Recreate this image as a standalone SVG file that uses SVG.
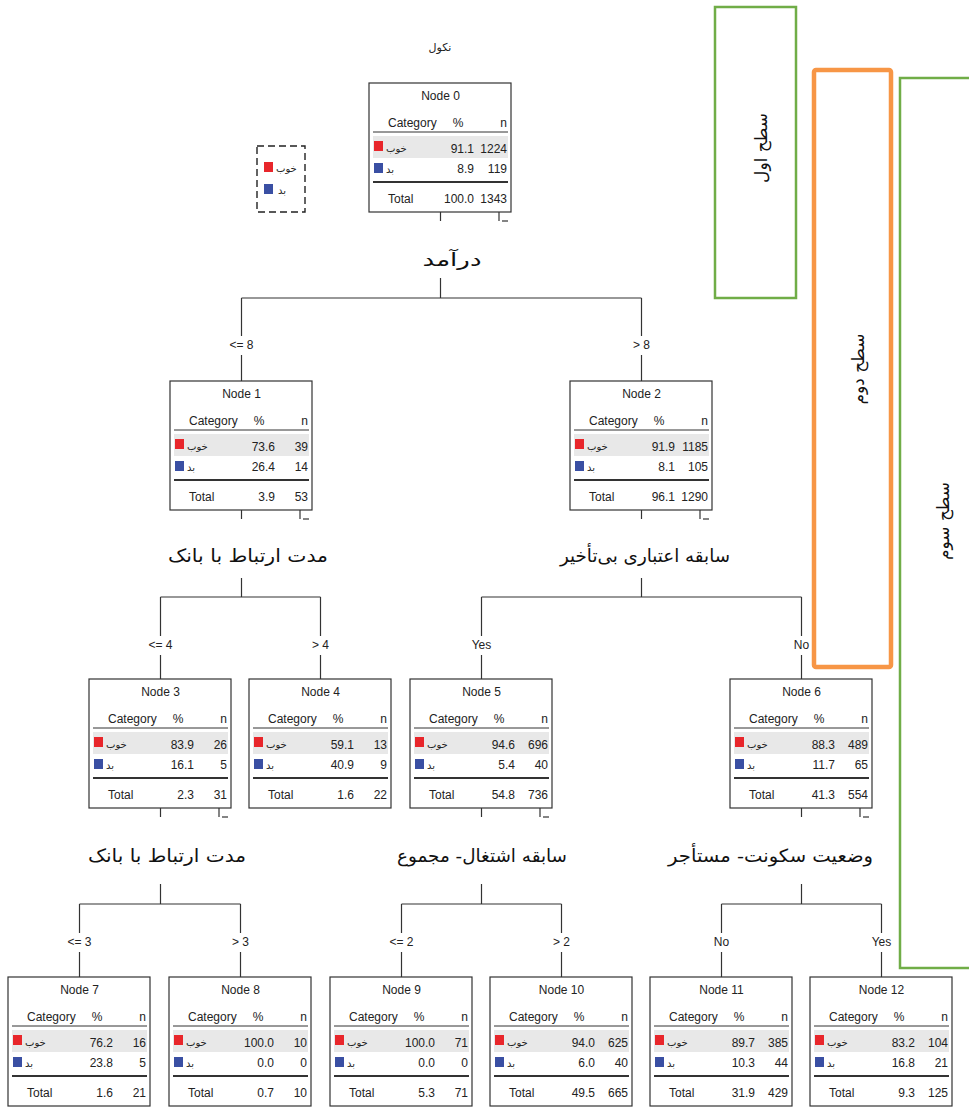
<svg xmlns="http://www.w3.org/2000/svg" width="969" height="1108" viewBox="0 0 969 1108">
<style>
.box{fill:#fff;stroke:#333;stroke-width:1.2}
.t{font-family:"Liberation Sans",Arial,sans-serif;font-size:12px;fill:#222}
.e{text-anchor:end}
.m{text-anchor:middle}
.ar{font-family:"DejaVu Sans",sans-serif;font-size:10px;fill:#222}
.split{font-family:"DejaVu Sans",sans-serif;font-size:18px;fill:#111;text-anchor:middle}
.lvl{font-family:"DejaVu Sans",sans-serif;font-size:17px;fill:#111;text-anchor:middle}
.rule{stroke:#333;stroke-width:1}
.rule2{stroke:#333;stroke-width:2}
.band{fill:#e8e8e8}
.red{fill:#e8262b}
.blue{fill:#3a4fa3}
.c{stroke:#333;stroke-width:1.2;fill:none}
</style>
<defs>
<g id="frame">
<rect class="box" x="0" y="0" width="142" height="129"/>
<text class="t" x="19" y="44">Category</text>
<text class="t m" x="89" y="44">%</text>
<text class="t e" x="138" y="44">n</text>
<line class="rule" x1="4" y1="49" x2="139" y2="49"/>
<rect class="band" x="4" y="53" width="135" height="22"/>
<rect class="red" x="5" y="58" width="9" height="10"/>
<text class="ar" x="17" y="69">خوب</text>
<rect class="blue" x="5" y="80" width="9" height="10"/>
<text class="ar" x="17" y="90">بد</text>
<line class="rule2" x1="4" y1="99" x2="139" y2="99"/>
<text class="t" x="19" y="120">Total</text>
</g>
<g id="stub">
<line class="c" x1="71.5" y1="129" x2="71.5" y2="138"/>
<line class="c" x1="130" y1="129" x2="130" y2="138"/>
<line class="c" x1="133" y1="138" x2="139" y2="138"/>
</g>
</defs>

<text class="ar m" x="440" y="51" style="font-size:11px">نکول</text>

<g id="legend">
<rect x="257" y="146" width="48" height="66" fill="none" stroke="#222" stroke-width="1.4" stroke-dasharray="7 4"/>
<rect class="red" x="264" y="162" width="9" height="10"/>
<text class="ar" x="276" y="172">خوب</text>
<rect class="blue" x="264" y="184" width="9" height="10"/>
<text class="ar" x="278" y="194">بد</text>
</g>

<g id="levels">
<rect x="715" y="7" width="81" height="291" fill="#fff" stroke="#70ad47" stroke-width="2.5"/>
<text class="lvl" transform="translate(761,148) rotate(-90)" dy="0.35em">سطح اول</text>
<rect x="814" y="70" width="77" height="597" rx="2" fill="#fff" stroke="#f79646" stroke-width="4.5"/>
<text class="lvl" transform="translate(858,369) rotate(-90)" dy="0.35em">سطح دوم</text>
<rect x="900" y="78" width="100" height="890" fill="#fff" stroke="#70ad47" stroke-width="2.5"/>
<text class="lvl" transform="translate(943,521) rotate(-90)" dy="0.35em">سطح سوم</text>
</g>

<g id="connectors">
<line class="c" x1="440.5" y1="278" x2="440.5" y2="298"/>
<line class="c" x1="241.5" y1="298" x2="641.5" y2="298"/>
<line class="c" x1="241.5" y1="298" x2="241.5" y2="336"/>
<line class="c" x1="241.5" y1="355" x2="241.5" y2="381"/>
<line class="c" x1="641.5" y1="298" x2="641.5" y2="336"/>
<line class="c" x1="641.5" y1="355" x2="641.5" y2="381"/>
<text class="t m" x="241.5" y="349">&lt;= 8</text>
<text class="t m" x="641.5" y="349">&gt; 8</text>

<line class="c" x1="241.5" y1="578" x2="241.5" y2="597"/>
<line class="c" x1="160.5" y1="597" x2="320.5" y2="597"/>
<line class="c" x1="160.5" y1="597" x2="160.5" y2="636"/>
<line class="c" x1="160.5" y1="655" x2="160.5" y2="679"/>
<line class="c" x1="320.5" y1="597" x2="320.5" y2="636"/>
<line class="c" x1="320.5" y1="655" x2="320.5" y2="679"/>
<text class="t m" x="160.5" y="649">&lt;= 4</text>
<text class="t m" x="320.5" y="649">&gt; 4</text>

<line class="c" x1="641.5" y1="578" x2="641.5" y2="597"/>
<line class="c" x1="481.5" y1="597" x2="801.5" y2="597"/>
<line class="c" x1="481.5" y1="597" x2="481.5" y2="636"/>
<line class="c" x1="481.5" y1="655" x2="481.5" y2="679"/>
<line class="c" x1="801.5" y1="597" x2="801.5" y2="636"/>
<line class="c" x1="801.5" y1="655" x2="801.5" y2="679"/>
<text class="t m" x="481.5" y="649">Yes</text>
<text class="t m" x="801.5" y="649">No</text>

<line class="c" x1="160.5" y1="884" x2="160.5" y2="904"/>
<line class="c" x1="79.5" y1="904" x2="240.5" y2="904"/>
<line class="c" x1="79.5" y1="904" x2="79.5" y2="933"/>
<line class="c" x1="79.5" y1="952" x2="79.5" y2="977"/>
<line class="c" x1="240.5" y1="904" x2="240.5" y2="933"/>
<line class="c" x1="240.5" y1="952" x2="240.5" y2="977"/>
<text class="t m" x="79.5" y="946">&lt;= 3</text>
<text class="t m" x="240.5" y="946">&gt; 3</text>

<line class="c" x1="481.5" y1="884" x2="481.5" y2="904"/>
<line class="c" x1="401.5" y1="904" x2="561.5" y2="904"/>
<line class="c" x1="401.5" y1="904" x2="401.5" y2="933"/>
<line class="c" x1="401.5" y1="952" x2="401.5" y2="977"/>
<line class="c" x1="561.5" y1="904" x2="561.5" y2="933"/>
<line class="c" x1="561.5" y1="952" x2="561.5" y2="977"/>
<text class="t m" x="401.5" y="946">&lt;= 2</text>
<text class="t m" x="561.5" y="946">&gt; 2</text>

<line class="c" x1="801.5" y1="884" x2="801.5" y2="904"/>
<line class="c" x1="721.5" y1="904" x2="881.5" y2="904"/>
<line class="c" x1="721.5" y1="904" x2="721.5" y2="933"/>
<line class="c" x1="721.5" y1="952" x2="721.5" y2="977"/>
<line class="c" x1="881.5" y1="904" x2="881.5" y2="933"/>
<line class="c" x1="881.5" y1="952" x2="881.5" y2="977"/>
<text class="t m" x="721.5" y="946">No</text>
<text class="t m" x="881.5" y="946">Yes</text>

<text class="split" x="452" y="266" textLength="59" lengthAdjust="spacingAndGlyphs">درآمد</text>
<text class="split" x="248" y="562" textLength="160" lengthAdjust="spacingAndGlyphs">مدت ارتباط با بانک</text>
<text class="split" x="645" y="562" textLength="170" lengthAdjust="spacingAndGlyphs">سابقه اعتباری بی‌تأخیر</text>
<text class="split" x="167" y="862" textLength="158" lengthAdjust="spacingAndGlyphs">مدت ارتباط با بانک</text>
<text class="split" x="482" y="862" textLength="170" lengthAdjust="spacingAndGlyphs">سابقه اشتغال- مجموع</text>
<text class="split" x="770.5" y="862" textLength="205" lengthAdjust="spacingAndGlyphs">وضعیت سکونت- مستأجر</text>
</g>

<g id="node0" transform="translate(369,83)"><use href="#frame"/><use href="#stub"/>
<text class="t m" x="71.5" y="17">Node 0</text>
<text class="t e" x="105" y="70">91.1</text><text class="t e" x="138" y="70">1224</text>
<text class="t e" x="105" y="90">8.9</text><text class="t e" x="138" y="90">119</text>
<text class="t e" x="105" y="120">100.0</text><text class="t e" x="138" y="120">1343</text></g>

<g id="node1" transform="translate(170,381)"><use href="#frame"/><use href="#stub"/>
<text class="t m" x="71.5" y="17">Node 1</text>
<text class="t e" x="105" y="70">73.6</text><text class="t e" x="138" y="70">39</text>
<text class="t e" x="105" y="90">26.4</text><text class="t e" x="138" y="90">14</text>
<text class="t e" x="105" y="120">3.9</text><text class="t e" x="138" y="120">53</text></g>

<g id="node2" transform="translate(570,381)"><use href="#frame"/><use href="#stub"/>
<text class="t m" x="71.5" y="17">Node 2</text>
<text class="t e" x="105" y="70">91.9</text><text class="t e" x="138" y="70">1185</text>
<text class="t e" x="105" y="90">8.1</text><text class="t e" x="138" y="90">105</text>
<text class="t e" x="105" y="120">96.1</text><text class="t e" x="138" y="120">1290</text></g>

<g id="node3" transform="translate(89,679)"><use href="#frame"/><use href="#stub"/>
<text class="t m" x="71.5" y="17">Node 3</text>
<text class="t e" x="105" y="70">83.9</text><text class="t e" x="138" y="70">26</text>
<text class="t e" x="105" y="90">16.1</text><text class="t e" x="138" y="90">5</text>
<text class="t e" x="105" y="120">2.3</text><text class="t e" x="138" y="120">31</text></g>

<g id="node4" transform="translate(249,679)"><use href="#frame"/>
<text class="t m" x="71.5" y="17">Node 4</text>
<text class="t e" x="105" y="70">59.1</text><text class="t e" x="138" y="70">13</text>
<text class="t e" x="105" y="90">40.9</text><text class="t e" x="138" y="90">9</text>
<text class="t e" x="105" y="120">1.6</text><text class="t e" x="138" y="120">22</text></g>

<g id="node5" transform="translate(410,679)"><use href="#frame"/><use href="#stub"/>
<text class="t m" x="71.5" y="17">Node 5</text>
<text class="t e" x="105" y="70">94.6</text><text class="t e" x="138" y="70">696</text>
<text class="t e" x="105" y="90">5.4</text><text class="t e" x="138" y="90">40</text>
<text class="t e" x="105" y="120">54.8</text><text class="t e" x="138" y="120">736</text></g>

<g id="node6" transform="translate(730,679)"><use href="#frame"/><use href="#stub"/>
<text class="t m" x="71.5" y="17">Node 6</text>
<text class="t e" x="105" y="70">88.3</text><text class="t e" x="138" y="70">489</text>
<text class="t e" x="105" y="90">11.7</text><text class="t e" x="138" y="90">65</text>
<text class="t e" x="105" y="120">41.3</text><text class="t e" x="138" y="120">554</text></g>

<g id="node7" transform="translate(8,977)"><use href="#frame"/>
<text class="t m" x="71.5" y="17">Node 7</text>
<text class="t e" x="105" y="70">76.2</text><text class="t e" x="138" y="70">16</text>
<text class="t e" x="105" y="90">23.8</text><text class="t e" x="138" y="90">5</text>
<text class="t e" x="105" y="120">1.6</text><text class="t e" x="138" y="120">21</text></g>

<g id="node8" transform="translate(169,977)"><use href="#frame"/>
<text class="t m" x="71.5" y="17">Node 8</text>
<text class="t e" x="105" y="70">100.0</text><text class="t e" x="138" y="70">10</text>
<text class="t e" x="105" y="90">0.0</text><text class="t e" x="138" y="90">0</text>
<text class="t e" x="105" y="120">0.7</text><text class="t e" x="138" y="120">10</text></g>

<g id="node9" transform="translate(330,977)"><use href="#frame"/>
<text class="t m" x="71.5" y="17">Node 9</text>
<text class="t e" x="105" y="70">100.0</text><text class="t e" x="138" y="70">71</text>
<text class="t e" x="105" y="90">0.0</text><text class="t e" x="138" y="90">0</text>
<text class="t e" x="105" y="120">5.3</text><text class="t e" x="138" y="120">71</text></g>

<g id="node10" transform="translate(490,977)"><use href="#frame"/>
<text class="t m" x="71.5" y="17">Node 10</text>
<text class="t e" x="105" y="70">94.0</text><text class="t e" x="138" y="70">625</text>
<text class="t e" x="105" y="90">6.0</text><text class="t e" x="138" y="90">40</text>
<text class="t e" x="105" y="120">49.5</text><text class="t e" x="138" y="120">665</text></g>

<g id="node11" transform="translate(650,977)"><use href="#frame"/>
<text class="t m" x="71.5" y="17">Node 11</text>
<text class="t e" x="105" y="70">89.7</text><text class="t e" x="138" y="70">385</text>
<text class="t e" x="105" y="90">10.3</text><text class="t e" x="138" y="90">44</text>
<text class="t e" x="105" y="120">31.9</text><text class="t e" x="138" y="120">429</text></g>

<g id="node12" transform="translate(810,977)"><use href="#frame"/>
<text class="t m" x="71.5" y="17">Node 12</text>
<text class="t e" x="105" y="70">83.2</text><text class="t e" x="138" y="70">104</text>
<text class="t e" x="105" y="90">16.8</text><text class="t e" x="138" y="90">21</text>
<text class="t e" x="105" y="120">9.3</text><text class="t e" x="138" y="120">125</text></g>
</svg>
